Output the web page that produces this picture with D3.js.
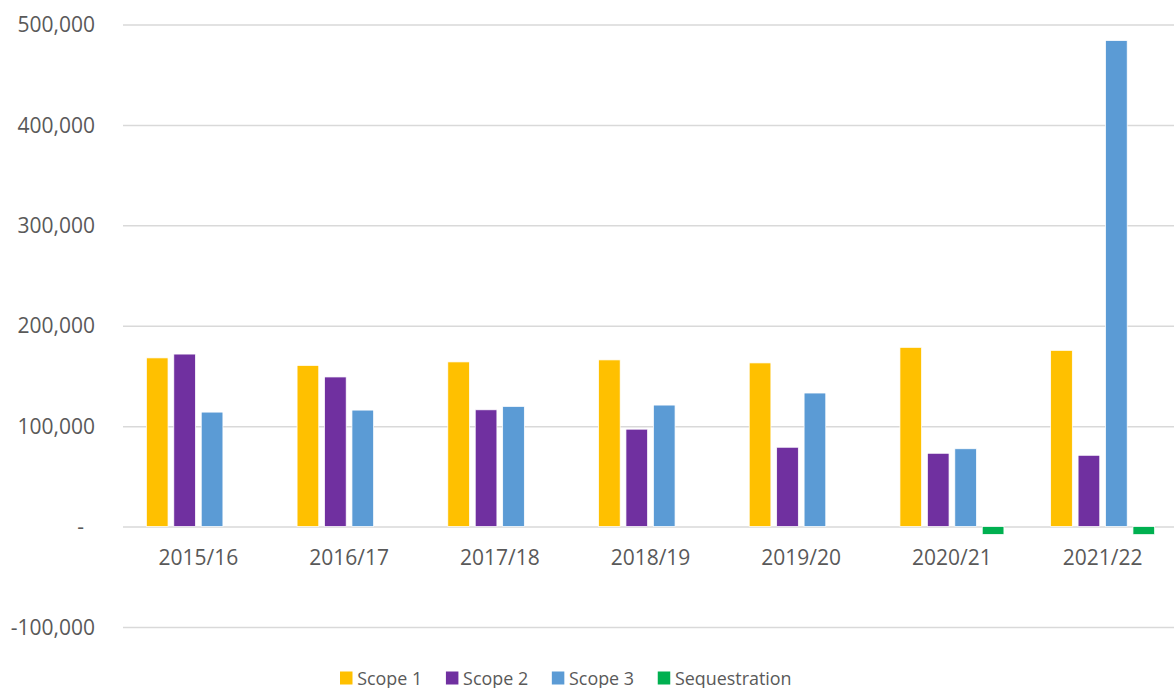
<!DOCTYPE html>
<html>
<head>
<meta charset="utf-8">
<script src="https://cdn.jsdelivr.net/npm/d3@7"></script>
<style>
  body { margin: 0; background: #fff; }
  svg { display: block; font-family: "Open Sans", sans-serif; }
</style>
</head>
<body>
<div id="chart"></div>
<script>
// chart data
var years = ["2015/16", "2016/17", "2017/18", "2018/19", "2019/20", "2020/21", "2021/22"];
var seriesNames = ["Scope 1", "Scope 2", "Scope 3", "Sequestration"];
var scope1 = [168000, 160500, 164000, 166000, 163000, 178500, 175500];
var scope2 = [171800, 149000, 116300, 97000, 79000, 73000, 71000];
var scope3 = [114000, 116000, 119700, 121000, 133000, 77500, 484000];
var sequestration = [0, 0, 0, 0, 0, -7800, -8000];
var yTicks = [-100000, 0, 100000, 200000, 300000, 400000, 500000];
var colors = ["#FFC000", "#7030A0", "#5B9BD5", "#00B050"];

var width = 1174,
    height = 688;

// plot area edges (plotRight runs a bit past the picture edge)
var plotLeft = 123, plotRight = 1178, plotTop = 24.5, plotBottom = 627;

var svg = d3.select("#chart").append("svg")
    .attr("width", width)
    .attr("height", height);

// build rows from the arrays
var allSeries = [scope1, scope2, scope3, sequestration];
var rows = years.map(function(yr, i) {
  return { year: yr, values: seriesNames.map(function(s, j) { return { key: s, value: allSeries[j][i] }; }) };
});

var x0 = d3.scaleBand()
    .domain(years)
    .range([plotLeft, plotRight])
    .paddingInner(0.31)
    .paddingOuter(0.155);

var x1 = d3.scaleBand()
    .domain(seriesNames)
    .range([0, x0.bandwidth()])
    .paddingInner(0.21);

var y = d3.scaleLinear()
    .domain([-100000, 500000])
    .range([plotBottom, plotTop]);

var color = d3.scaleOrdinal().domain(seriesNames).range(colors);

// y axis with gridlines -- plain hyphen for negatives, like Excel
var locale = d3.formatLocale({ decimal: ".", thousands: ",", grouping: [3], currency: ["", ""], minus: "-" });
var fmt = locale.format(",");
var yAxis = d3.axisLeft(y)
    .tickValues(yTicks)
    .tickSize(-(width - plotLeft))
    .tickPadding(28)
    .tickFormat(function(d) { return d === 0 ? "-" : fmt(d); });

var gy = svg.append("g")
    .attr("transform", "translate(" + plotLeft + ",0)")
    .call(yAxis)
    .attr("font-family", "'Open Sans', sans-serif")
    .attr("font-size", 21);
gy.select(".domain").remove();
gy.selectAll(".tick line").attr("stroke", "#d9d9d9").attr("stroke-width", 1.5);
gy.selectAll(".tick text")
    .attr("fill", "#595959")
    .attr("dy", "0.34em");
// the zero label sits a bit further left, like the accounting format
gy.selectAll(".tick text").filter(function(d) { return d === 0; }).attr("dx", -11);

// bars
var groups = svg.append("g").selectAll("g")
    .data(rows)
    .join("g")
    .attr("transform", function(d) { return "translate(" + x0(d.year) + ",0)"; });

groups.selectAll("rect")
    .data(function(d) { return d.values.filter(function(v) { return v.value !== 0; }); })
    .join("rect")
    .attr("x", function(d) { return x1(d.key); })
    .attr("y", function(d) { return y(Math.max(0, d.value)); })
    .attr("width", x1.bandwidth())
    .attr("height", function(d) { return Math.abs(y(d.value) - y(0)); })
    .attr("fill", function(d) { return color(d.key); })
    .attr("stroke", "#fff")
    .attr("stroke-width", 0.75);

// x axis labels along the zero line
var xAxis = d3.axisBottom(x0).tickSize(0).tickPadding(23.5);
var gx = svg.append("g")
    .attr("transform", "translate(0," + y(0) + ")")
    .call(xAxis)
    .attr("font-family", "'Open Sans', sans-serif")
    .attr("font-size", 21);
gx.select(".domain").remove();
gx.selectAll(".tick text").attr("fill", "#595959");

// legend
var legend = svg.append("g").attr("transform", "translate(340,0)");
var lx = 0;
seriesNames.forEach(function(name) {
  var item = legend.append("g").attr("transform", "translate(" + lx + ",0)");
  item.append("rect")
      .attr("x", 0).attr("y", 671.5)
      .attr("width", 12.5).attr("height", 13)
      .attr("fill", color(name));
  var t = item.append("text")
      .attr("x", 17.2).attr("y", 685)
      .attr("fill", "#595959")
      .attr("font-size", 17.9)
      .text(name);
  lx += 17.2 + t.node().getComputedTextLength() + 23.7;
});
</script>
</body>
</html>
